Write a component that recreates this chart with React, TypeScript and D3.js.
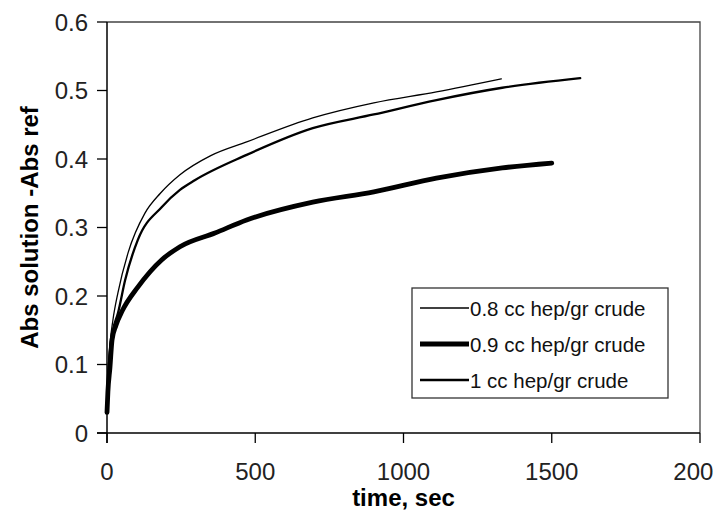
import React, { useRef, useEffect } from "react";
import * as d3 from "d3";

// values
const seriesNames = ["0.8 cc hep/gr crude", "0.9 cc hep/gr crude", "1 cc hep/gr crude"];

const time08 = [0, 5, 10, 20, 37, 71, 128, 180, 246, 350, 471, 694, 900, 1111, 1330];
const abs08 = [0.05, 0.1, 0.13, 0.165, 0.205, 0.263, 0.321, 0.35, 0.377, 0.405, 0.425, 0.46, 0.482, 0.498, 0.517];

const time09 = [0, 3, 10, 17, 30, 51, 104, 185, 246, 364, 471, 694, 900, 1111, 1333, 1500];
const abs09 = [0.03, 0.06, 0.096, 0.136, 0.157, 0.178, 0.213, 0.253, 0.272, 0.292, 0.311, 0.337, 0.352, 0.372, 0.387, 0.394];

const time10 = [0, 5, 10, 20, 37, 61, 104, 185, 246, 296, 471, 694, 900, 1111, 1333, 1596];
const abs10 = [0.04, 0.09, 0.12, 0.15, 0.175, 0.223, 0.282, 0.33, 0.355, 0.369, 0.406, 0.445, 0.465, 0.486, 0.504, 0.518];

const xTicks = [0, 500, 1000, 1500, 2000];
const yTicks = [0, 0.1, 0.2, 0.3, 0.4, 0.5, 0.6];

const width = 713;
const height = 512;
const margin = { top: 22, right: 13, bottom: 79, left: 107 };
const lineWidths = [1.3, 4.8, 2.3];

const App = () => {
  const svgRef = useRef(null);

  useEffect(() => {
    const svg = d3.select(svgRef.current);
    svg.selectAll("*").remove();

    const x = d3.scaleLinear().domain([0, 2000]).range([margin.left, width - margin.right]);
    const y = d3.scaleLinear().domain([0, 0.6]).range([height - margin.bottom, margin.top]);

    const font = "'Liberation Sans', Arial, sans-serif";

    // frame (top and right)
    svg
      .append("path")
      .attr("d", `M${x(0)},${y(0.6)}H${x(2000)}V${y(0)}`)
      .attr("fill", "none")
      .attr("stroke", "#444")
      .attr("stroke-width", 1.3);

    // curves
    const series = [
      time08.map((t, i) => [t, abs08[i]]),
      time09.map((t, i) => [t, abs09[i]]),
      time10.map((t, i) => [t, abs10[i]]),
    ];
    const line = d3
      .line()
      .x((d) => x(d[0]))
      .y((d) => y(d[1]))
      .curve(d3.curveMonotoneX);

    series.forEach((s, i) => {
      svg
        .append("path")
        .attr("d", line(s))
        .attr("fill", "none")
        .attr("stroke", "#000")
        .attr("stroke-width", lineWidths[i])
        .attr("stroke-linecap", "round")
        .attr("stroke-linejoin", "round");
    });

    // axes
    const xAxis = svg.append("g").attr("transform", `translate(0,${y(0)})`);
    xAxis
      .append("line")
      .attr("x1", x(0) - 10)
      .attr("x2", x(2000))
      .attr("stroke", "#000")
      .attr("stroke-width", 1.5);
    xAxis
      .selectAll(".xt")
      .data(xTicks)
      .join("line")
      .attr("x1", (d) => x(d))
      .attr("x2", (d) => x(d))
      .attr("y1", 0)
      .attr("y2", 10)
      .attr("stroke", "#000")
      .attr("stroke-width", 1.3);
    xAxis
      .selectAll(".xl")
      .data(xTicks)
      .join("text")
      .attr("x", (d) => x(d))
      .attr("y", 47)
      .attr("text-anchor", "middle")
      .attr("font-family", font)
      .attr("font-size", 24)
      .attr("fill", "#222")
      .text((d) => d);

    const yAxis = svg.append("g").attr("transform", `translate(${x(0)},0)`);
    yAxis
      .append("line")
      .attr("y1", y(0) + 10)
      .attr("y2", y(0.6))
      .attr("stroke", "#000")
      .attr("stroke-width", 1.5);
    yAxis
      .selectAll(".yt")
      .data(yTicks)
      .join("line")
      .attr("x1", -10)
      .attr("x2", 0)
      .attr("y1", (d) => y(d))
      .attr("y2", (d) => y(d))
      .attr("stroke", "#000")
      .attr("stroke-width", 1.3);
    yAxis
      .selectAll(".yl")
      .data(yTicks)
      .join("text")
      .attr("x", -19)
      .attr("y", (d) => y(d) + 8.5)
      .attr("text-anchor", "end")
      .attr("font-family", font)
      .attr("font-size", 24)
      .attr("fill", "#222")
      .text((d) => d3.format("~g")(d));

    // axis titles
    svg
      .append("text")
      .attr("x", (x(0) + x(2000)) / 2)
      .attr("y", 506)
      .attr("text-anchor", "middle")
      .attr("font-family", font)
      .attr("font-weight", "bold")
      .attr("font-size", 24)
      .text("time, sec");
    svg
      .append("text")
      .attr("transform", `translate(38,${(y(0) + y(0.6)) / 2}) rotate(-90)`)
      .attr("text-anchor", "middle")
      .attr("font-family", font)
      .attr("font-weight", "bold")
      .attr("font-size", 24)
      .text("Abs solution -Abs ref");

    // legend
    const legend = svg.append("g").attr("transform", "translate(412,288)");
    legend
      .append("rect")
      .attr("width", 256)
      .attr("height", 110)
      .attr("fill", "#fff")
      .attr("stroke", "#333")
      .attr("stroke-width", 1.3);
    seriesNames.forEach((name, i) => {
      const cy = 20 + i * 36;
      legend
        .append("line")
        .attr("x1", 8)
        .attr("x2", 57)
        .attr("y1", cy)
        .attr("y2", cy)
        .attr("stroke", "#000")
        .attr("stroke-width", lineWidths[i]);
      legend
        .append("text")
        .attr("x", 58)
        .attr("y", cy + 7.5)
        .attr("font-family", font)
        .attr("font-size", 20.5)
        .attr("fill", "#111")
        .text(name);
    });
  }, []);

  return (
    <svg
      ref={svgRef}
      width={width}
      height={height}
      style={{ position: "absolute", left: 0, top: 0, background: "#fff" }}
    />
  );
};

export default App;
